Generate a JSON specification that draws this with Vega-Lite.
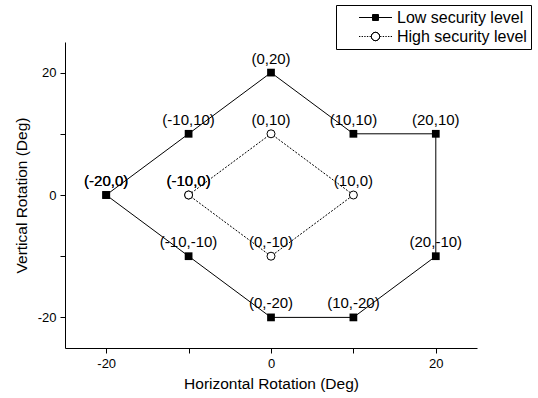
{
  "$schema": "https://vega.github.io/schema/vega-lite/v6.json",
  "width": 412,
  "height": 306,
  "autosize": {"type": "none"},
  "padding": {"left": 65, "top": 42, "right": 61, "bottom": 50},
  "background": "white",
  "config": {
    "view": {"stroke": null},
    "font": "Liberation Sans",
    "axis": {
      "grid": false,
      "domainColor": "black",
      "domainWidth": 1,
      "tickColor": "black",
      "tickSize": 5,
      "tickWidth": 1,
      "labelColor": "black",
      "labelFont": "Liberation Sans",
      "labelFontSize": 13,
      "labelPadding": 4,
      "titleColor": "black",
      "titleFont": "Liberation Sans",
      "titleFontSize": 15.5,
      "titleFontWeight": "normal"
    }
  },
  "data": {
    "values": [
      {"series": "Low security level", "order": 1, "x": -20, "y": 0, "label": "(-20,0)"},
      {"series": "Low security level", "order": 2, "x": -10, "y": 10, "label": "(-10,10)"},
      {"series": "Low security level", "order": 3, "x": 0, "y": 20, "label": "(0,20)"},
      {"series": "Low security level", "order": 4, "x": 10, "y": 10, "label": "(10,10)"},
      {"series": "Low security level", "order": 5, "x": 20, "y": 10, "label": "(20,10)"},
      {"series": "Low security level", "order": 6, "x": 20, "y": -10, "label": "(20,-10)"},
      {"series": "Low security level", "order": 7, "x": 10, "y": -20, "label": "(10,-20)"},
      {"series": "Low security level", "order": 8, "x": 0, "y": -20, "label": "(0,-20)"},
      {"series": "Low security level", "order": 9, "x": -10, "y": -10, "label": "(-10,-10)"},
      {"series": "Low security level", "order": 10, "x": -20, "y": 0, "label": "(-20,0)"},
      {"series": "High security level", "order": 1, "x": -10, "y": 0, "label": "(-10,0)"},
      {"series": "High security level", "order": 2, "x": 0, "y": 10, "label": "(0,10)"},
      {"series": "High security level", "order": 3, "x": 10, "y": 0, "label": "(10,0)"},
      {"series": "High security level", "order": 4, "x": 0, "y": -10, "label": "(0,-10)"},
      {"series": "High security level", "order": 5, "x": -10, "y": 0, "label": "(-10,0)"}
    ]
  },
  "encoding": {
    "x": {
      "field": "x",
      "type": "quantitative",
      "scale": {"domain": [-25, 25], "nice": false, "zero": false},
      "axis": {
        "title": "Horizontal Rotation (Deg)",
        "values": [-20, -10, 0, 10, 20],
        "labelExpr": "datum.value % 20 === 0 ? '' + datum.value : ''",
        "titlePadding": 6
      }
    },
    "y": {
      "field": "y",
      "type": "quantitative",
      "scale": {"domain": [-25, 25], "nice": false, "zero": false},
      "axis": {
        "title": "Vertical Rotation (Deg)",
        "values": [-20, -10, 0, 10, 20],
        "labelExpr": "datum.value % 20 === 0 ? '' + datum.value : ''",
        "titlePadding": 8
      }
    }
  },
  "layer": [
    {
      "transform": [{"filter": "datum.series === 'Low security level'"}],
      "mark": {"type": "line", "color": "black", "strokeWidth": 1},
      "encoding": {"order": {"field": "order", "type": "quantitative"}}
    },
    {
      "transform": [{"filter": "datum.series === 'High security level'"}],
      "mark": {"type": "line", "color": "black", "strokeWidth": 1, "strokeDash": [2, 1.5]},
      "encoding": {"order": {"field": "order", "type": "quantitative"}}
    },
    {
      "transform": [{"filter": "datum.series === 'Low security level'"}],
      "mark": {"type": "point", "shape": "square", "filled": true, "color": "black", "size": 60, "opacity": 1}
    },
    {
      "transform": [{"filter": "datum.series === 'High security level'"}],
      "mark": {"type": "point", "shape": "circle", "filled": true, "fill": "white", "stroke": "black", "strokeWidth": 1, "size": 64, "opacity": 1}
    },
    {
      "mark": {"type": "text", "color": "black", "font": "Liberation Sans", "fontSize": 15, "align": "center", "baseline": "alphabetic", "dy": -9},
      "encoding": {"text": {"field": "label", "type": "nominal"}}
    },
    {
      "mark": {"type": "point", "filled": true, "fill": "black", "stroke": "black", "strokeWidth": 1, "opacity": 0, "size": 1089},
      "encoding": {
        "shape": {
          "field": "series",
          "type": "nominal",
          "scale": {
            "domain": ["Low security level", "High security level"],
            "range": [
              "M-1,0L1,0M-0.18,-0.18L0.18,-0.18L0.18,0.18L-0.18,0.18Z",
              "M-1,0L-0.92,0M-0.84,0L-0.76,0M-0.68,0L-0.6,0M-0.52,0L-0.44,0M-0.36,0L-0.28,0M0.28,0L0.36,0M0.44,0L0.52,0M0.6,0L0.68,0M0.76,0L0.84,0M0.92,0L1,0M0.255,0A0.255,0.255,0,1,1,-0.255,0A0.255,0.255,0,1,1,0.255,0A0.255,0.255,0,1,0,-0.255,0A0.255,0.255,0,1,0,0.255,0"
            ]
          },
          "legend": {
            "title": null,
            "orient": "none",
            "legendX": 271,
            "legendY": -37,
            "strokeColor": "black",
            "fillColor": "white",
            "padding": 4,
            "symbolSize": 1089,
            "symbolOpacity": 1,
            "symbolStrokeWidth": 1,
            "symbolOffset": 18.5,
            "labelOffset": 4.5,
            "labelFont": "Liberation Sans",
            "labelFontSize": 16,
            "labelColor": "black",
            "labelLimit": 300,
            "clipHeight": 17,
            "rowPadding": 2
          }
        }
      }
    }
  ]
}
